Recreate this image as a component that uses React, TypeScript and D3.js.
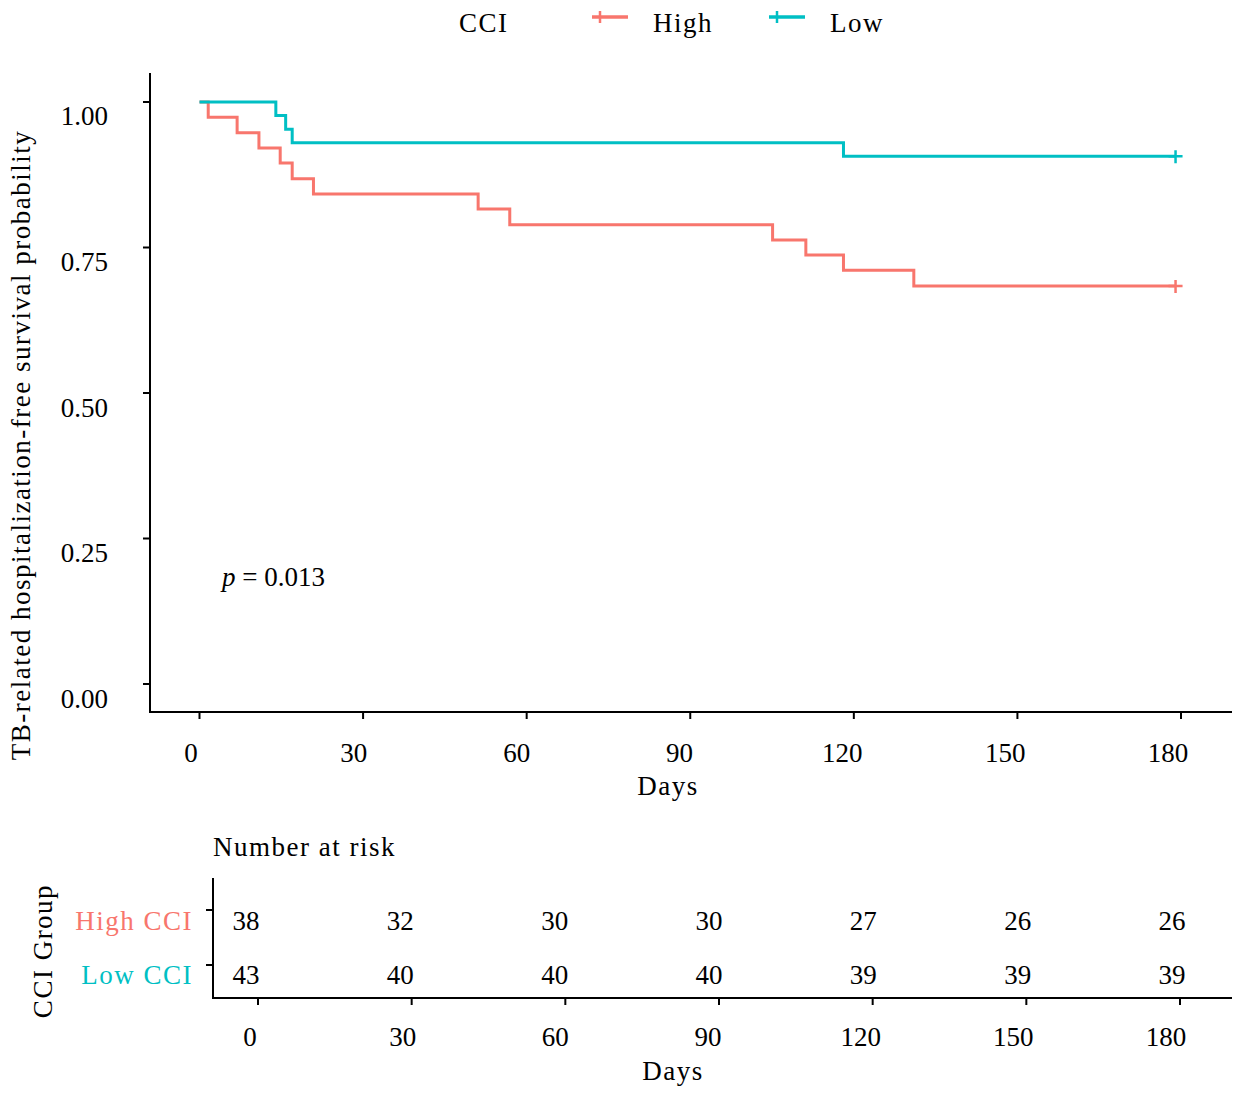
import * as d3 from 'd3';
import { useEffect, useRef } from 'react';

const HIGH_COLOR = '#F8766D';
const LOW_COLOR = '#00BFC4';
const FONT = '"Liberation Serif", "Times New Roman", serif';

// survival steps
const highTimes = [0, 1.6, 6.9, 10.9, 14.8, 17.0, 20.9, 51.1, 56.9, 105.1, 111.2, 118.1, 131.0, 179];
const highSurv = [1, 0.974, 0.947, 0.921, 0.895, 0.868, 0.842, 0.816, 0.789, 0.763, 0.737, 0.711, 0.684, 0.684];
const lowTimes = [0, 14.0, 15.8, 17.0, 118.1, 179];
const lowSurv = [1, 0.977, 0.953, 0.930, 0.907, 0.907];

// number at risk table
const riskDays = [0, 30, 60, 90, 120, 150, 180];
const highRisk = [38, 32, 30, 30, 27, 26, 26];
const lowRisk = [43, 40, 40, 40, 39, 39, 39];
const groupLabels = ['High CCI', 'Low CCI'];

const yTicks = [0, 0.25, 0.5, 0.75, 1];
const xTicks = [0, 30, 60, 90, 120, 150, 180];
const pLabel = '0.013';

export default function App() {
    const ref = useRef<any>();

    useEffect(() => {
        const svg = d3.select<any, any>(ref.current);
        svg.selectAll('*').remove();

        const width = 1241;
        const height = 1096;
        svg.attr('width', width).attr('height', height).attr('viewBox', `0 0 ${width} ${height}`);
        svg.append('rect').attr('width', width).attr('height', height).attr('fill', 'white');

        //main panel scales
        const xScale = d3.scaleLinear().domain([0, 180]).range([199.5, 1181]);
        const yScale = d3.scaleLinear().domain([0, 1]).range([684, 102]);
        const xLabelScale = d3.scaleLinear().domain([0, 180]).range([191, 1168]);
        const yLabelScale = d3.scaleLinear().domain([0, 1]).range([708, 125]);

        const axes = svg.append('g').attr('stroke', 'black').attr('stroke-width', 2);
        axes.append('line').attr('x1', 150).attr('x2', 150).attr('y1', 73).attr('y2', 713);
        axes.append('line').attr('x1', 149).attr('x2', 1232).attr('y1', 712).attr('y2', 712);

        axes.selectAll('.ytick').data(yTicks).join('line')
            .attr('class', 'ytick')
            .attr('x1', 143).attr('x2', 150)
            .attr('y1', (d: any) => yScale(d)).attr('y2', (d: any) => yScale(d));
        axes.selectAll('.xtick').data(xTicks).join('line')
            .attr('class', 'xtick')
            .attr('x1', (d: any) => xScale(d)).attr('x2', (d: any) => xScale(d))
            .attr('y1', 712).attr('y2', 719);

        const text = svg.append('g').attr('font-family', FONT).attr('font-size', 27).attr('fill', 'black');

        text.selectAll('.ylab').data(yTicks).join('text')
            .attr('class', 'ylab')
            .attr('x', 108)
            .attr('y', (d: any) => yLabelScale(d))
            .attr('text-anchor', 'end')
            .text((d: any) => d3.format('.2f')(d));

        text.selectAll('.xlab').data(xTicks).join('text')
            .attr('class', 'xlab')
            .attr('x', (d: any) => xLabelScale(d))
            .attr('y', 762)
            .attr('text-anchor', 'middle')
            .text((d: any) => d);

        text.append('text').attr('x', 668).attr('y', 795).attr('text-anchor', 'middle')
            .attr('letter-spacing', 1.5).text('Days');

        text.append('text')
            .attr('transform', 'translate(30, 445) rotate(-90)')
            .attr('text-anchor', 'middle')
            .attr('letter-spacing', 1.5)
            .text('TB-related hospitalization-free survival probability');

        const pText = text.append('text').attr('x', 222).attr('y', 586);
        pText.append('tspan').attr('font-style', 'italic').text('p');
        pText.append('tspan').text(` = ${pLabel}`);

        //curves
        const line = d3.line<any>()
            .x((d: any) => xScale(d[0]))
            .y((d: any) => yScale(d[1]))
            .curve(d3.curveStepAfter);

        const series = [
            { color: HIGH_COLOR, pts: d3.zip(highTimes, highSurv) },
            { color: LOW_COLOR, pts: d3.zip(lowTimes, lowSurv) },
        ];

        const curves = svg.append('g');
        series.forEach((s: any) => {
            curves.append('path')
                .attr('d', line(s.pts))
                .attr('fill', 'none')
                .attr('stroke', s.color)
                .attr('stroke-width', 3);
            const last = s.pts[s.pts.length - 1];
            const cx = xScale(last[0]);
            const cy = yScale(last[1]);
            curves.append('path')
                .attr('d', `M${cx - 7},${cy}H${cx + 7}M${cx},${cy - 6}V${cy + 7}`)
                .attr('stroke', s.color)
                .attr('stroke-width', 2.5)
                .attr('fill', 'none');
        });

        //legend
        const legend = svg.append('g');
        legend.append('text').attr('x', 459).attr('y', 32)
            .attr('font-family', FONT).attr('font-size', 27).attr('letter-spacing', 1.5).text('CCI');
        const legendItems = [
            { name: 'High', color: HIGH_COLOR, x: 592 },
            { name: 'Low', color: LOW_COLOR, x: 769 },
        ];
        legendItems.forEach((item) => {
            legend.append('line')
                .attr('x1', item.x).attr('x2', item.x + 36)
                .attr('y1', 17).attr('y2', 17)
                .attr('stroke', item.color).attr('stroke-width', 3.5);
            legend.append('line')
                .attr('x1', item.x + 8).attr('x2', item.x + 8)
                .attr('y1', 11).attr('y2', 23)
                .attr('stroke', item.color).attr('stroke-width', 2.5);
            legend.append('text')
                .attr('x', item.x + 61).attr('y', 32)
                .attr('font-family', FONT).attr('font-size', 27).attr('letter-spacing', 1.5)
                .text(item.name);
        });

        //risk table
        const tScale = d3.scaleLinear().domain([0, 180]).range([258, 1180]);
        const tNumScale = d3.scaleLinear().domain([0, 180]).range([246, 1172]);
        const tLabelScale = d3.scaleLinear().domain([0, 180]).range([250, 1166]);
        const rowY = [910, 965];
        const rowBase = [930, 984];

        const table = svg.append('g');
        table.append('text').attr('x', 213).attr('y', 856)
            .attr('font-family', FONT).attr('font-size', 27).attr('letter-spacing', 1.5)
            .text('Number at risk');

        const tAxes = table.append('g').attr('stroke', 'black').attr('stroke-width', 2);
        tAxes.append('line').attr('x1', 213).attr('x2', 213).attr('y1', 878).attr('y2', 999);
        tAxes.append('line').attr('x1', 212).attr('x2', 1232).attr('y1', 998).attr('y2', 998);
        tAxes.selectAll('.rtick').data(rowY).join('line')
            .attr('class', 'rtick')
            .attr('x1', 206).attr('x2', 213)
            .attr('y1', (d: any) => d).attr('y2', (d: any) => d);
        tAxes.selectAll('.ttick').data(riskDays).join('line')
            .attr('class', 'ttick')
            .attr('x1', (d: any) => tScale(d)).attr('x2', (d: any) => tScale(d))
            .attr('y1', 998).attr('y2', 1005);

        const tText = table.append('g').attr('font-family', FONT).attr('font-size', 27);
        [highRisk, lowRisk].forEach((row, i) => {
            tText.selectAll(`.row${i}`).data(row).join('text')
                .attr('class', `row${i}`)
                .attr('x', (_d: any, j: number) => tNumScale(riskDays[j]))
                .attr('y', rowBase[i])
                .attr('text-anchor', 'middle')
                .text((d: any) => d);
        });
        tText.selectAll('.glab').data(groupLabels).join('text')
            .attr('class', 'glab')
            .attr('x', 193)
            .attr('y', (_d: any, i: number) => rowBase[i])
            .attr('text-anchor', 'end')
            .attr('letter-spacing', 1.5)
            .attr('fill', (_d: any, i: number) => (i === 0 ? HIGH_COLOR : LOW_COLOR))
            .text((d: any) => d);
        tText.selectAll('.tlab').data(riskDays).join('text')
            .attr('class', 'tlab')
            .attr('x', (d: any) => tLabelScale(d))
            .attr('y', 1046)
            .attr('text-anchor', 'middle')
            .text((d: any) => d);
        tText.append('text').attr('x', 673).attr('y', 1080).attr('text-anchor', 'middle')
            .attr('letter-spacing', 1.5).text('Days');
        tText.append('text')
            .attr('transform', 'translate(52, 951) rotate(-90)')
            .attr('text-anchor', 'middle')
            .attr('letter-spacing', 1.5)
            .text('CCI Group');
    }, []);

    return (
        <div>
            <svg ref={ref} style={{ position: 'absolute', left: 0, top: 0, display: 'block' }}></svg>
        </div>
    );
}
